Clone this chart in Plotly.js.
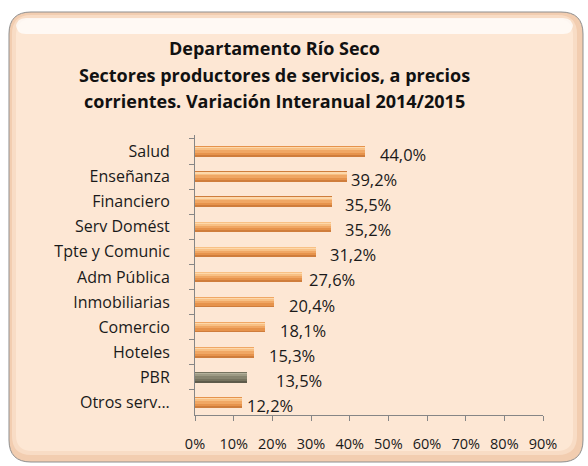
<!DOCTYPE html>
<html>
<head>
<meta charset="utf-8">
<script src="https://cdn.plot.ly/plotly-3.0.1.min.js"></script>
<style>
  body { margin: 0; background: #ffffff; }
  #chart { width: 588px; height: 466px; }
</style>
</head>
<body>
<div id="chart"></div>
<script>
// sectores, de arriba hacia abajo
var sectores = ['Salud', 'Enseñanza', 'Financiero', 'Serv Domést', 'Tpte y Comunic',
                'Adm Pública', 'Inmobiliarias', 'Comercio', 'Hoteles', 'PBR', 'Otros serv...'];
var variacion = [44.0, 39.2, 35.5, 35.2, 31.2, 27.6, 20.4, 18.1, 15.3, 13.5, 12.2];
var etiquetas = ['44,0%', '39,2%', '35,5%', '35,2%', '31,2%', '27,6%', '20,4%', '18,1%', '15,3%', '13,5%', '12,2%'];
var ticksX = [0, 10, 20, 30, 40, 50, 60, 70, 80, 90];
var ticksXText = ['0%', '10%', '20%', '30%', '40%', '50%', '60%', '70%', '80%', '90%'];

// label offsets as placed in the original (pixels)
var labelShift = [13, 2, 11, 12, 12, 5, 13, 13, 13, 27, 3];

var font = '"Open Sans", Lato, sans-serif';
var txt = '#1a1a1a';

// plot area in px, used to place the frame in paper coords
var L = 195, R = 543, T = 135, B = 415;
function px(x) { return (x - L) / (R - L); }
function py(y) { return (B - y) / (B - T); }
function roundRect(x0, y0, x1, y1, r) {
  return 'M ' + px(x0 + r) + ',' + py(y0) +
    ' L ' + px(x1 - r) + ',' + py(y0) +
    ' Q ' + px(x1) + ',' + py(y0) + ' ' + px(x1) + ',' + py(y0 + r) +
    ' L ' + px(x1) + ',' + py(y1 - r) +
    ' Q ' + px(x1) + ',' + py(y1) + ' ' + px(x1 - r) + ',' + py(y1) +
    ' L ' + px(x0 + r) + ',' + py(y1) +
    ' Q ' + px(x0) + ',' + py(y1) + ' ' + px(x0) + ',' + py(y1 - r) +
    ' L ' + px(x0) + ',' + py(y0 + r) +
    ' Q ' + px(x0) + ',' + py(y0) + ' ' + px(x0 + r) + ',' + py(y0) + ' Z';
}

// bar shading layers (dark edge -> light top), orange bars and gray PBR
var shades = [
  { w: 0.42, off: -0.21, orange: '#cf7d3c', gray: '#5e5b4b' },
  { w: 0.34, off: -0.20, orange: '#e6934c', gray: '#76735f' },
  { w: 0.24, off: -0.19, orange: '#f0a764', gray: '#87846f' },
  { w: 0.13, off: -0.18, orange: '#f8c084', gray: '#9d9a84' },
  { w: 0.05, off: -0.17, orange: '#fdd8aa', gray: '#b4b19c' }
];
var traces = shades.map(function (sh) {
  return {
    type: 'bar', orientation: 'h', x: variacion, y: sectores,
    width: sh.w, offset: sh.off,
    marker: { color: sectores.map(function (s) { return s === 'PBR' ? sh.gray : sh.orange; }), line: { width: 0 } },
    hoverinfo: 'skip', showlegend: false
  };
});

var annotations = sectores.map(function (s, i) {
  return {
    x: variacion[i], y: s, xref: 'x', yref: 'y', text: etiquetas[i],
    showarrow: false, xanchor: 'left', yanchor: 'middle',
    xshift: labelShift[i], yshift: -3,
    font: { family: font, size: 16.5, color: txt }
  };
});
var titulo = ['Departamento Río Seco',
              'Sectores productores de servicios, a precios',
              'corrientes. Variación Interanual 2014/2015'];
titulo.forEach(function (t, i) {
  annotations.push({
    x: px(274), y: py(48 + i * 26.5), xref: 'paper', yref: 'paper', text: '<b>' + t + '</b>',
    showarrow: false, xanchor: 'center', yanchor: 'middle',
    font: { family: font, size: 18, color: '#111111' }
  });
});

var shapes = [
  { type: 'path', xref: 'paper', yref: 'paper', layer: 'below',
    path: roundRect(9, 12, 583, 462, 22), fillcolor: '#f2cdb0',
    line: { color: '#8f8f8f', width: 1 } },
  { type: 'path', xref: 'paper', yref: 'paper', layer: 'below',
    path: roundRect(12, 15, 577, 455, 19), fillcolor: '#f8dcc5',
    line: { width: 0 } },
  { type: 'path', xref: 'paper', yref: 'paper', layer: 'below',
    path: roundRect(16, 19, 573, 451, 16), fillcolor: '#fde7d4',
    line: { width: 0 } },
  { type: 'path', xref: 'paper', yref: 'paper', layer: 'below',
    path: roundRect(16, 18, 573, 34, 10), fillcolor: 'rgba(255,255,255,0.75)',
    line: { width: 0 } }
];

var layout = {
  width: 588, height: 466,
  margin: { l: L, r: 588 - R, t: T, b: 466 - B, pad: 0 },
  paper_bgcolor: '#ffffff', plot_bgcolor: 'rgba(0,0,0,0)',
  barmode: 'overlay', bargap: 0,
  font: { family: font, color: txt },
  xaxis: {
    range: [0, 90], tickvals: ticksX, ticktext: ticksXText,
    ticks: 'outside', ticklen: 5, tickcolor: '#868686', tickwidth: 1,
    showline: true, linecolor: '#868686', linewidth: 1,
    showgrid: false, zeroline: false, ticklabelstandoff: 11,
    tickfont: { family: font, size: 14.5, color: txt },
    fixedrange: true
  },
  yaxis: {
    type: 'category', autorange: 'reversed',
    tickson: 'boundaries', ticks: 'outside', ticklen: 5, tickcolor: '#868686',
    showline: true, linecolor: '#868686', linewidth: 1,
    showgrid: false, zeroline: false, ticklabelstandoff: 21,
    tickfont: { family: font, size: 16, color: txt },
    fixedrange: true
  },
  shapes: shapes,
  annotations: annotations
};

Plotly.newPlot('chart', traces, layout, { displayModeBar: false, staticPlot: true });
</script>
</body>
</html>
